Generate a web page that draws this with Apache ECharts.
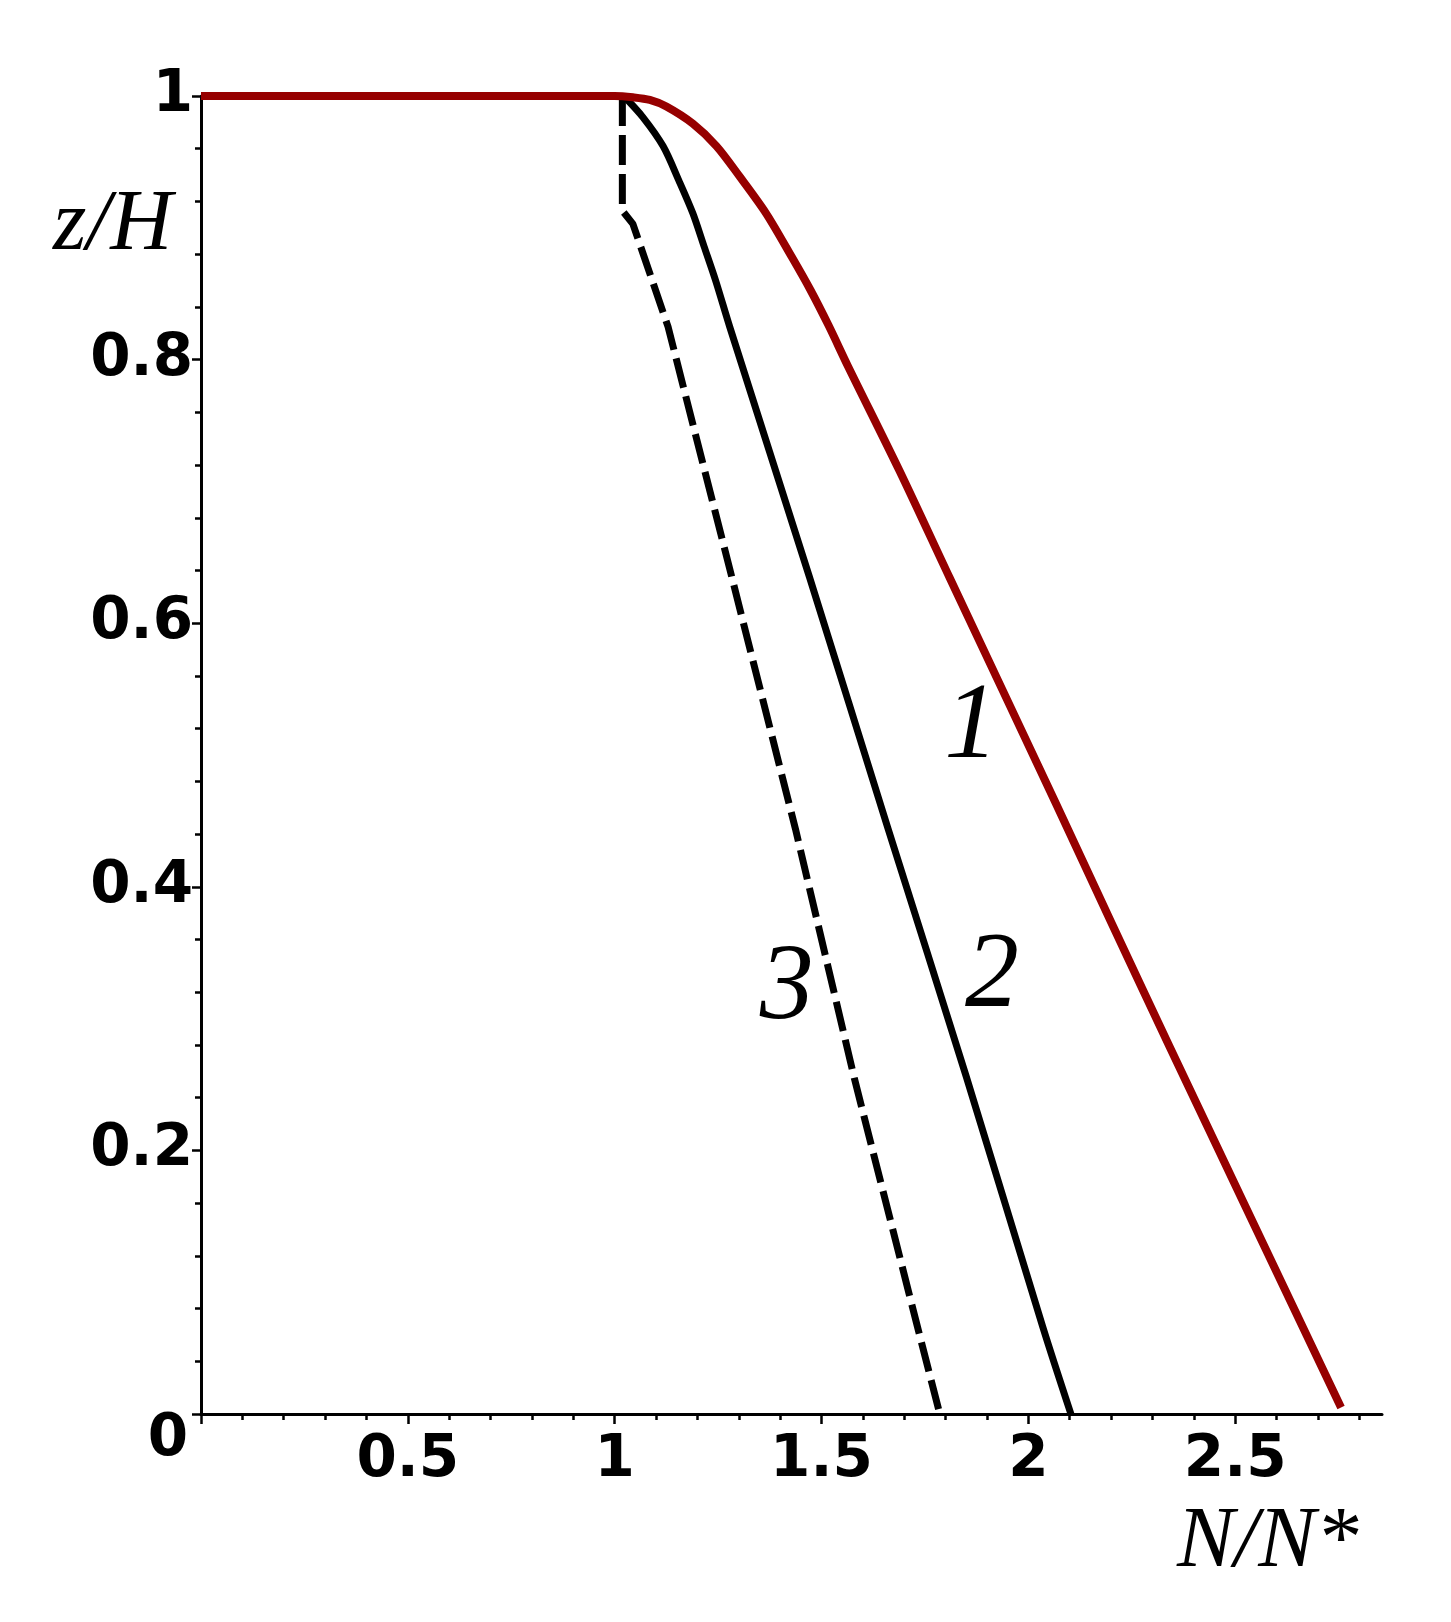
<!DOCTYPE html>
<html><head><meta charset="utf-8">
<script src="https://cdn.jsdelivr.net/npm/echarts@6/dist/echarts.min.js"></script>
<style>html,body{margin:0;padding:0;background:#fff}#c{width:1451px;height:1622px}</style>
</head><body><div id="c"></div>
<script>
// Curve 1 (red)
const curve1X = [0, 1.0, 1.044, 1.085, 1.125, 1.189, 1.246, 1.302, 1.366, 1.428, 1.473, 1.517, 1.564, 1.688, 1.809, 2.067, 2.202, 2.341, 2.756];
const curve1Y = [1, 1, 0.999, 0.997, 0.992, 0.979, 0.962, 0.939, 0.911, 0.878, 0.853, 0.826, 0.795, 0.716, 0.635, 0.463, 0.372, 0.279, 0.005];
// Curve 2 (black solid)
const curve2X = [1.022, 1.068, 1.117, 1.155, 1.189, 1.216, 1.244, 1.278, 1.471, 1.660, 1.850, 2.035, 2.103];
const curve2Y = [1.0, 0.984, 0.962, 0.936, 0.911, 0.886, 0.860, 0.825, 0.635, 0.445, 0.256, 0.066, 0];
// Curve 3 (black dashed)
const curve3X = [1.0186, 1.0186, 1.044, 1.129, 1.284, 1.437, 1.580, 1.733, 1.786];
const curve3Y = [1.0, 0.913, 0.903, 0.825, 0.634, 0.444, 0.254, 0.065, 0];

// Curve number labels
const curveLabelText = ['1', '2', '3'];
const curveLabelX = [1.862, 1.912, 1.416];
const curveLabelY = [0.520, 0.331, 0.322];

// Axes
const xMin = 0, xMax = 2.855;
const yMin = 0, yMax = 1;
const xMajorTicks = [0, 0.5, 1, 1.5, 2, 2.5];
const xLabelValues = [0.5, 1, 1.5, 2, 2.5];
const xMinorTicks = [0.1, 0.2, 0.3, 0.4, 0.6, 0.7, 0.8, 0.9, 1.1, 1.2, 1.3, 1.4, 1.6, 1.7, 1.8, 1.9, 2.1, 2.2, 2.3, 2.4, 2.6, 2.7, 2.8];
const yInterval = 0.2;
const xName = 'N/N*';
const yName = 'z/H';

const zip = (xs, ys) => xs.map((x, i) => [x, ys[i]]);

const tickFont = { fontFamily: 'DejaVu Sans', fontWeight: 'bold', fontSize: 58, color: '#000' };

const chart = echarts.init(document.getElementById('c'), null, { renderer: 'canvas' });
chart.setOption({
  backgroundColor: '#fff',
  animation: false,
  grid: { left: 201, right: 69, top: 96, bottom: 208, containLabel: false },
  xAxis: [{
    type: 'value', min: xMin, max: xMax, position: 'bottom',
    axisLine: { show: true, onZero: false, lineStyle: { color: '#000', width: 3 } },
    axisTick: { show: true, inside: false, length: 10, lineStyle: { color: '#000', width: 2.5 }, customValues: xMajorTicks },
    axisLabel: Object.assign({ show: true, margin: 18, customValues: xLabelValues, formatter: v => String(v) }, tickFont),
    splitLine: { show: false }
  }, {
    type: 'value', min: xMin, max: xMax, position: 'bottom',
    axisLine: { show: false },
    axisTick: { show: true, inside: false, length: 6, lineStyle: { color: '#000', width: 2.5 }, customValues: xMinorTicks },
    axisLabel: { show: false },
    splitLine: { show: false }
  }],
  yAxis: {
    type: 'value', min: yMin, max: yMax, interval: yInterval,
    axisLine: { show: true, onZero: false, lineStyle: { color: '#000', width: 3 } },
    axisTick: { show: true, inside: false, length: 9, lineStyle: { color: '#000', width: 2.5 } },
    minorTick: { show: true, splitNumber: 5, length: 6, lineStyle: { color: '#000', width: 2.5 } },
    axisLabel: Object.assign({
      show: true, margin: 8,
      formatter: v => v === 0 ? '{z|0}' : String(+v.toFixed(1)),
      rich: { z: Object.assign({ padding: [52, 5, 0, 0] }, tickFont) }
    }, tickFont),
    splitLine: { show: false }, minorSplitLine: { show: false }
  },
  series: [
    { type: 'line', name: '1', data: zip(curve1X, curve1Y), showSymbol: false, symbol: 'none', smooth: 0.3, clip: false,
      lineStyle: { color: '#960000', width: 8, join: 'round' }, z: 3 },
    { type: 'line', name: '2', data: zip(curve2X, curve2Y), showSymbol: false, symbol: 'none', smooth: 0.3, clip: false,
      lineStyle: { color: '#000', width: 7, join: 'round' }, z: 2 },
    { type: 'line', name: '3', data: zip(curve3X, curve3Y), showSymbol: false, symbol: 'none', smooth: false, clip: false,
      lineStyle: { color: '#000', width: 7, type: [30, 9], cap: 'butt' }, z: 2 },
    { type: 'scatter', name: 'labels', data: curveLabelText.map((t, i) => ({ name: t, value: [curveLabelX[i], curveLabelY[i]] })),
      symbolSize: 1, itemStyle: { color: 'rgba(0,0,0,0)', opacity: 1 }, silent: true, z: 5,
      label: { show: true, position: 'inside', formatter: p => p.name, fontFamily: 'Liberation Serif', fontStyle: 'italic', fontSize: 108, color: '#000', opacity: 1 } }
  ],
  graphic: [
    { type: 'text', x: 53, y: 226, style: { text: yName, fontFamily: 'Liberation Serif', fontStyle: 'italic', fontSize: 86, fill: '#000', align: 'left', verticalAlign: 'middle' } },
    { type: 'text', x: 1177, y: 1543, style: { text: xName, fontFamily: 'Liberation Serif', fontStyle: 'italic', fontSize: 86, fill: '#000', align: 'left', verticalAlign: 'middle' } }
  ]
});
</script></body></html>
